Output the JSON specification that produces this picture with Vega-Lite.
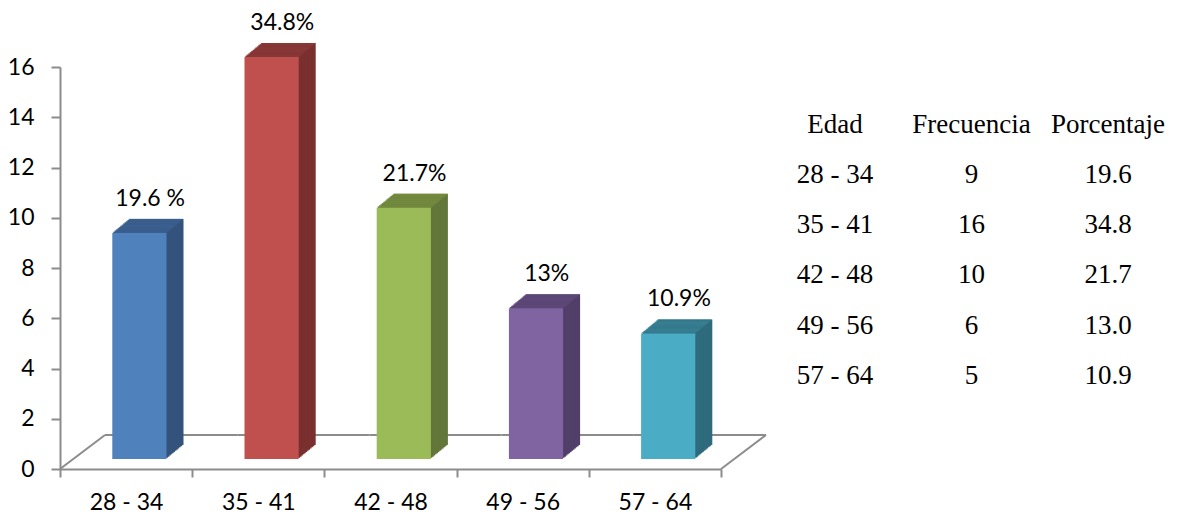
{
  "$schema": "https://vega.github.io/schema/vega-lite/v6.json",
  "background": "white",
  "padding": {"left": 7, "top": 12, "right": 0, "bottom": 0},
  "bounds": "flush",
  "spacing": 40,
  "config": {"view": {"stroke": null}, "axis": {"grid": false, "title": null}},
  "datasets": {
    "tabla": [
      {"edad": "28 - 34", "frecuencia": 9, "porcentaje": 19.6, "etiqueta": "19.6 %"},
      {"edad": "35 - 41", "frecuencia": 16, "porcentaje": 34.8, "etiqueta": "34.8%"},
      {"edad": "42 - 48", "frecuencia": 10, "porcentaje": 21.7, "etiqueta": "21.7%"},
      {"edad": "49 - 56", "frecuencia": 6, "porcentaje": 13.0, "etiqueta": "13%"},
      {"edad": "57 - 64", "frecuencia": 5, "porcentaje": 10.9, "etiqueta": "10.9%"}
    ],
    "encabezado": [
      {"col": "Edad", "fila": "encabezado"},
      {"col": "Frecuencia", "fila": "encabezado"},
      {"col": "Porcentaje", "fila": "encabezado"}
    ]
  },
  "hconcat": [
    {
      "width": 661,
      "height": 402,
      "data": {"name": "tabla"},
      "resolve": {"scale": {"color": "independent"}},
      "encoding": {
        "x": {"field": "edad", "type": "nominal", "sort": null,
          "scale": {"domain": ["28 - 34", "35 - 41", "42 - 48", "49 - 56", "57 - 64"], "paddingInner": 0, "paddingOuter": 0},
          "axis": {"tickBand": "extent", "labelAngle": 0, "domainColor": "#8c8c8c", "domainWidth": 2, "tickColor": "#8c8c8c", "tickWidth": 2, "tickSize": 8, "labelPadding": 14, "labelFont": "Lato", "labelFontSize": 23, "labelColor": "black"}},
        "y": {"field": "frecuencia", "type": "quantitative",
          "scale": {"domain": [0, 16], "nice": false},
          "axis": {"values": [0, 2, 4, 6, 8, 10, 12, 14, 16], "domainColor": "#8c8c8c", "domainWidth": 2, "tickColor": "#8c8c8c", "tickWidth": 2, "tickSize": 9, "labelPadding": 17, "labelFont": "Lato", "labelFontSize": 23, "labelColor": "black"}}
      },
      "layer": [
        {"mark": {"type": "rule", "color": "#8c8c8c", "strokeWidth": 2, "xOffset": 45, "x2Offset": 45, "yOffset": -34},
         "encoding": {"x": {"field": "edad", "type": "nominal", "bandPosition": 0}, "x2": {"field": "edad", "bandPosition": 1}, "y": {"datum": 0}}},
        {"transform": [{"filter": "datum.edad === '28 - 34'"}],
         "mark": {"type": "rule", "color": "#8c8c8c", "strokeWidth": 2, "x2Offset": 45, "y2Offset": -34},
         "encoding": {"x": {"field": "edad", "type": "nominal", "bandPosition": 0}, "x2": {"field": "edad", "bandPosition": 0}, "y": {"datum": 0}, "y2": {"datum": 0}}},
        {"transform": [{"filter": "datum.edad === '57 - 64'"}],
         "mark": {"type": "rule", "color": "#8c8c8c", "strokeWidth": 2, "x2Offset": 45, "y2Offset": -34},
         "encoding": {"x": {"field": "edad", "type": "nominal", "bandPosition": 1}, "x2": {"field": "edad", "bandPosition": 1}, "y": {"datum": 0}, "y2": {"datum": 0}}},

        {"mark": {"type": "bar", "width": {"band": 0.41}, "xOffset": 30.3, "yOffset": -24, "y2Offset": -24}, "encoding": {"y2": {"datum": 0}, "color": {"field": "edad", "type": "nominal", "sort": null, "legend": null, "scale": {"range": ["#34537C", "#7A302F", "#63773A", "#523F69", "#2E6B7C"]}}}},
        {"mark": {"type": "bar", "width": {"band": 0.41}, "xOffset": 28.88, "yOffset": -22.83, "y2Offset": -22.83}, "encoding": {"y2": {"datum": 0}, "color": {"field": "edad", "type": "nominal", "sort": null, "legend": null, "scale": {"range": ["#34537C", "#7A302F", "#63773A", "#523F69", "#2E6B7C"]}}}},
        {"mark": {"type": "bar", "width": {"band": 0.41}, "xOffset": 27.47, "yOffset": -21.67, "y2Offset": -21.67}, "encoding": {"y2": {"datum": 0}, "color": {"field": "edad", "type": "nominal", "sort": null, "legend": null, "scale": {"range": ["#34537C", "#7A302F", "#63773A", "#523F69", "#2E6B7C"]}}}},
        {"mark": {"type": "bar", "width": {"band": 0.41}, "xOffset": 26.05, "yOffset": -20.5, "y2Offset": -20.5}, "encoding": {"y2": {"datum": 0}, "color": {"field": "edad", "type": "nominal", "sort": null, "legend": null, "scale": {"range": ["#34537C", "#7A302F", "#63773A", "#523F69", "#2E6B7C"]}}}},
        {"mark": {"type": "bar", "width": {"band": 0.41}, "xOffset": 24.63, "yOffset": -19.33, "y2Offset": -19.33}, "encoding": {"y2": {"datum": 0}, "color": {"field": "edad", "type": "nominal", "sort": null, "legend": null, "scale": {"range": ["#34537C", "#7A302F", "#63773A", "#523F69", "#2E6B7C"]}}}},
        {"mark": {"type": "bar", "width": {"band": 0.41}, "xOffset": 23.22, "yOffset": -18.17, "y2Offset": -18.17}, "encoding": {"y2": {"datum": 0}, "color": {"field": "edad", "type": "nominal", "sort": null, "legend": null, "scale": {"range": ["#34537C", "#7A302F", "#63773A", "#523F69", "#2E6B7C"]}}}},
        {"mark": {"type": "bar", "width": {"band": 0.41}, "xOffset": 21.8, "yOffset": -17, "y2Offset": -17}, "encoding": {"y2": {"datum": 0}, "color": {"field": "edad", "type": "nominal", "sort": null, "legend": null, "scale": {"range": ["#34537C", "#7A302F", "#63773A", "#523F69", "#2E6B7C"]}}}},
        {"mark": {"type": "bar", "width": {"band": 0.41}, "xOffset": 20.38, "yOffset": -15.83, "y2Offset": -15.83}, "encoding": {"y2": {"datum": 0}, "color": {"field": "edad", "type": "nominal", "sort": null, "legend": null, "scale": {"range": ["#34537C", "#7A302F", "#63773A", "#523F69", "#2E6B7C"]}}}},
        {"mark": {"type": "bar", "width": {"band": 0.41}, "xOffset": 18.97, "yOffset": -14.67, "y2Offset": -14.67}, "encoding": {"y2": {"datum": 0}, "color": {"field": "edad", "type": "nominal", "sort": null, "legend": null, "scale": {"range": ["#34537C", "#7A302F", "#63773A", "#523F69", "#2E6B7C"]}}}},
        {"mark": {"type": "bar", "width": {"band": 0.41}, "xOffset": 17.55, "yOffset": -13.5, "y2Offset": -13.5}, "encoding": {"y2": {"datum": 0}, "color": {"field": "edad", "type": "nominal", "sort": null, "legend": null, "scale": {"range": ["#34537C", "#7A302F", "#63773A", "#523F69", "#2E6B7C"]}}}},
        {"mark": {"type": "bar", "width": {"band": 0.41}, "xOffset": 16.13, "yOffset": -12.33, "y2Offset": -12.33}, "encoding": {"y2": {"datum": 0}, "color": {"field": "edad", "type": "nominal", "sort": null, "legend": null, "scale": {"range": ["#34537C", "#7A302F", "#63773A", "#523F69", "#2E6B7C"]}}}},
        {"mark": {"type": "bar", "width": {"band": 0.41}, "xOffset": 14.72, "yOffset": -11.17, "y2Offset": -11.17}, "encoding": {"y2": {"datum": 0}, "color": {"field": "edad", "type": "nominal", "sort": null, "legend": null, "scale": {"range": ["#34537C", "#7A302F", "#63773A", "#523F69", "#2E6B7C"]}}}},

        {"mark": {"type": "tick", "orient": "horizontal", "size": 54.2, "thickness": 1.3, "xOffset": 14.01, "yOffset": -10.58}, "encoding": {"color": {"field": "edad", "type": "nominal", "sort": null, "legend": null, "scale": {"range": ["#3D6597", "#8D3B39", "#77923F", "#614C7E", "#3A8599"]}}}},
        {"mark": {"type": "tick", "orient": "horizontal", "size": 54.2, "thickness": 1.3, "xOffset": 15.43, "yOffset": -11.75}, "encoding": {"color": {"field": "edad", "type": "nominal", "sort": null, "legend": null, "scale": {"range": ["#3D6597", "#8D3B39", "#77923F", "#614C7E", "#3A8599"]}}}},
        {"mark": {"type": "tick", "orient": "horizontal", "size": 54.2, "thickness": 1.3, "xOffset": 16.84, "yOffset": -12.92}, "encoding": {"color": {"field": "edad", "type": "nominal", "sort": null, "legend": null, "scale": {"range": ["#3D6597", "#8D3B39", "#77923F", "#614C7E", "#3A8599"]}}}},
        {"mark": {"type": "tick", "orient": "horizontal", "size": 54.2, "thickness": 1.3, "xOffset": 18.26, "yOffset": -14.08}, "encoding": {"color": {"field": "edad", "type": "nominal", "sort": null, "legend": null, "scale": {"range": ["#3D6597", "#8D3B39", "#77923F", "#614C7E", "#3A8599"]}}}},
        {"mark": {"type": "tick", "orient": "horizontal", "size": 54.2, "thickness": 1.3, "xOffset": 19.68, "yOffset": -15.25}, "encoding": {"color": {"field": "edad", "type": "nominal", "sort": null, "legend": null, "scale": {"range": ["#3D6597", "#8D3B39", "#77923F", "#614C7E", "#3A8599"]}}}},
        {"mark": {"type": "tick", "orient": "horizontal", "size": 54.2, "thickness": 1.3, "xOffset": 21.09, "yOffset": -16.42}, "encoding": {"color": {"field": "edad", "type": "nominal", "sort": null, "legend": null, "scale": {"range": ["#3D6597", "#8D3B39", "#77923F", "#614C7E", "#3A8599"]}}}},
        {"mark": {"type": "tick", "orient": "horizontal", "size": 54.2, "thickness": 1.3, "xOffset": 22.51, "yOffset": -17.58}, "encoding": {"color": {"field": "edad", "type": "nominal", "sort": null, "legend": null, "scale": {"range": ["#3D6597", "#8D3B39", "#77923F", "#614C7E", "#3A8599"]}}}},
        {"mark": {"type": "tick", "orient": "horizontal", "size": 54.2, "thickness": 1.3, "xOffset": 23.93, "yOffset": -18.75}, "encoding": {"color": {"field": "edad", "type": "nominal", "sort": null, "legend": null, "scale": {"range": ["#3D6597", "#8D3B39", "#77923F", "#614C7E", "#3A8599"]}}}},
        {"mark": {"type": "tick", "orient": "horizontal", "size": 54.2, "thickness": 1.3, "xOffset": 25.34, "yOffset": -19.92}, "encoding": {"color": {"field": "edad", "type": "nominal", "sort": null, "legend": null, "scale": {"range": ["#3D6597", "#8D3B39", "#77923F", "#614C7E", "#3A8599"]}}}},
        {"mark": {"type": "tick", "orient": "horizontal", "size": 54.2, "thickness": 1.3, "xOffset": 26.76, "yOffset": -21.08}, "encoding": {"color": {"field": "edad", "type": "nominal", "sort": null, "legend": null, "scale": {"range": ["#3D6597", "#8D3B39", "#77923F", "#614C7E", "#3A8599"]}}}},
        {"mark": {"type": "tick", "orient": "horizontal", "size": 54.2, "thickness": 1.3, "xOffset": 28.18, "yOffset": -22.25}, "encoding": {"color": {"field": "edad", "type": "nominal", "sort": null, "legend": null, "scale": {"range": ["#3D6597", "#8D3B39", "#77923F", "#614C7E", "#3A8599"]}}}},
        {"mark": {"type": "tick", "orient": "horizontal", "size": 54.2, "thickness": 1.3, "xOffset": 29.59, "yOffset": -23.42}, "encoding": {"color": {"field": "edad", "type": "nominal", "sort": null, "legend": null, "scale": {"range": ["#3D6597", "#8D3B39", "#77923F", "#614C7E", "#3A8599"]}}}},

        {"mark": {"type": "bar", "width": {"band": 0.41}, "xOffset": 13.3, "yOffset": -10, "y2Offset": -10}, "encoding": {"y2": {"datum": 0}, "color": {"field": "edad", "type": "nominal", "sort": null, "legend": null, "scale": {"range": ["#4F81BD", "#C0504D", "#9BBB59", "#8064A2", "#4BACC6"]}}}},

        {"mark": {"type": "text", "font": "Lato", "fontSize": 23, "color": "black", "align": "center", "baseline": "alphabetic", "xOffset": 24, "yOffset": -37},
         "encoding": {"text": {"field": "etiqueta"}}}
      ]
    },
    {
      "width": 421,
      "height": 402,
      "encoding": {
        "x": {"type": "nominal", "scale": {"type": "point", "domain": ["Edad", "Frecuencia", "Porcentaje"], "padding": 0.542}, "axis": null},
        "y": {"type": "nominal", "scale": {"type": "band", "domain": ["encabezado", "28 - 34", "35 - 41", "42 - 48", "49 - 56", "57 - 64"], "paddingInner": 0, "paddingOuter": 1.02, "align": 0.314}, "axis": null}
      },
      "layer": [
        {"data": {"name": "encabezado"},
         "mark": {"type": "text", "font": "Liberation Serif", "fontSize": 27, "color": "black", "align": "center", "baseline": "alphabetic", "dy": 9},
         "encoding": {"x": {"field": "col", "type": "nominal"}, "y": {"field": "fila", "type": "nominal"}, "text": {"field": "col"}}},
        {"data": {"name": "tabla"},
         "mark": {"type": "text", "font": "Liberation Serif", "fontSize": 27, "color": "black", "align": "center", "baseline": "alphabetic", "dy": 9},
         "encoding": {"x": {"datum": "Edad"}, "y": {"field": "edad", "type": "nominal"}, "text": {"field": "edad"}}},
        {"data": {"name": "tabla"},
         "mark": {"type": "text", "font": "Liberation Serif", "fontSize": 27, "color": "black", "align": "center", "baseline": "alphabetic", "dy": 9},
         "encoding": {"x": {"datum": "Frecuencia"}, "y": {"field": "edad", "type": "nominal"}, "text": {"field": "frecuencia"}}},
        {"data": {"name": "tabla"},
         "mark": {"type": "text", "font": "Liberation Serif", "fontSize": 27, "color": "black", "align": "center", "baseline": "alphabetic", "dy": 9},
         "encoding": {"x": {"datum": "Porcentaje"}, "y": {"field": "edad", "type": "nominal"}, "text": {"field": "porcentaje", "format": ".1f"}}}
      ]
    }
  ]
}
